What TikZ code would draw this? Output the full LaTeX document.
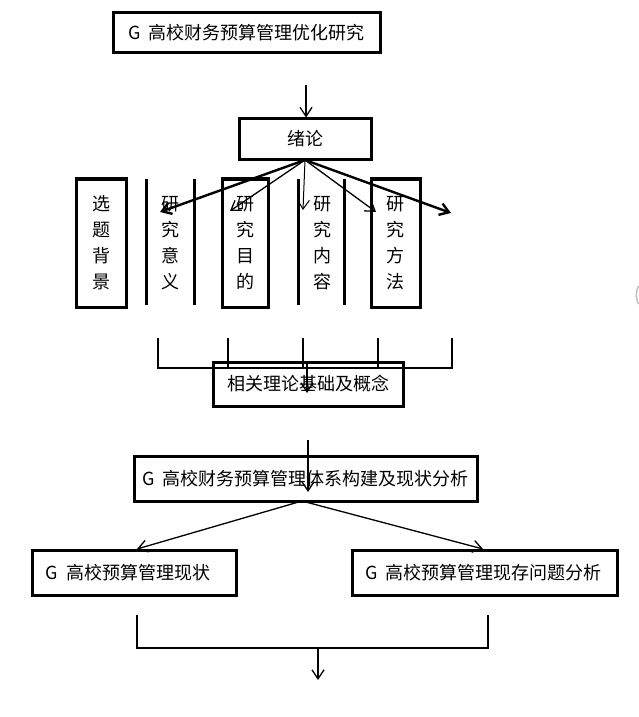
\documentclass[tikz,border=0pt]{standalone}
\usepackage{fontspec}
\setmainfont{Noto Sans CJK SC}
\usetikzlibrary{arrows.meta,positioning}

\newcommand{\Gsp}{G\hspace{0.45em}}

\tikzset{
  mainbox/.style={draw, line width=3bp, inner sep=0pt, font=\fontsize{18bp}{22bp}\selectfont},
  leftbox/.style={mainbox, minimum height=45bp, inner xsep=13bp, align=left},
  vbox/.style={mainbox, minimum height=128bp, align=center, font=\fontsize{18bp}{26bp}\selectfont},
  vtext/.style={align=center, inner sep=0pt, font=\fontsize{18bp}{26bp}\selectfont},
  vbar/.style={line width=3bp},
  arr/.style={-{Straight Barb[length=9bp,width=12bp]}, line width=1.3bp},
  thickarr/.style={arr, line width=2.4bp},
  bracket/.style={line width=1.3bp},
}

\begin{document}
\begin{tikzpicture}[x=1bp, y=-1bp]
  \useasboundingbox (0,0) rectangle (639,717);

  % top of the chart
  \node[mainbox, minimum width=267bp, minimum height=40bp] (title) at (246.5,33) {\Gsp 高校财务预算管理优化研究};
  \node[mainbox, minimum width=132bp, minimum height=40bp] (intro) at (305,139) {绪论};
  \coordinate (introin) at (306,85);
  \draw[arr] (introin) -- (intro.north -| introin);

  % the five parts of the introduction
  \node[vbox, minimum width=50bp] (bg) at (101,243) {选\\题\\背\\景};
  \node[vtext] (sig) at (170,243) {研\\究\\意\\义};
  \node[vbox, minimum width=46bp] (aim) at (245,243) {研\\究\\目\\的};
  \node[vtext] (cont) at (322,243) {研\\究\\内\\容};
  \node[vbox, minimum width=49bp] (meth) at (395.5,243) {研\\究\\方\\法};
  \foreach \x in {146,194,298,344}
    \draw[vbar] (\x,179) -- (\x,305);

  \coordinate (fan) at (305,160);
  \coordinate (f1) at (160,212);
  \coordinate (f2) at (230,211);
  \coordinate (f3) at (303,210);
  \coordinate (f4) at (376,212);
  \coordinate (f5) at (451,213);
  \draw[thickarr] (fan) -- (f1);
  \draw[arr] (fan) -- (f2);
  \draw[arr, line width=1bp] (fan) -- (f3);
  \draw[arr] (fan) -- (f4);
  \draw[thickarr] (fan) -- (f5);

  % gathering into the theory part
  \node[mainbox, minimum width=190bp, minimum height=44bp] (theory) at (308,384) {相关理论基础及概念};
  \foreach \x [count=\i] in {158,228,303,378,452}
    \coordinate (b\i) at (\x,338);
  \draw[bracket] (b1) -- ++(0,30) -- (452,368) -- (b5);
  \foreach \i in {2,3,4}
    \draw[bracket] (b\i) -- ++(0,30);
  \coordinate (thin) at (307,362);
  \draw[arr] (thin) -- (307,393);

  \node[mainbox, minimum width=343bp, minimum height=45bp] (sys) at (305.5,478.5) {\Gsp 高校财务预算管理体系构建及现状分析};
  \coordinate (sysin) at (308,440);
  \draw[arr] (sysin) -- (308,492);

  % current state and problems
  \node[leftbox, text width=177bp] (status) at (134.5,572.5) {\Gsp 高校预算管理现状};
  \node[leftbox, text width=239bp] (prob) at (484.5,572.5) {\Gsp 高校预算管理现存问题分析};
  \coordinate (split) at (302,501);
  \draw[arr] (split) -- (137,549);
  \draw[arr] (split) -- (483,549);

  \coordinate (c1) at (137,615);
  \coordinate (c2) at (488,615);
  \draw[bracket] (c1) -- (137,648) -- (488,648) -- (c2);
  \coordinate (out) at (318,648);
  \draw[arr] (out) -- (318,680);

  \draw[gray!50, line width=1.5bp] (638.5,286) to[bend right=25] (638.5,304);
\end{tikzpicture}
\end{document}
